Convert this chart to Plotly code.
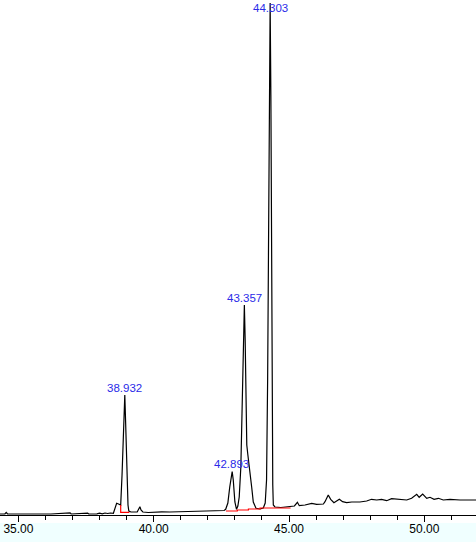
import plotly.graph_objects as go

# Retention time (min) and detector response (arbitrary units)
rt = [34.32, 34.50, 34.55, 34.60, 35.50, 36.20, 36.91, 36.95, 37.56, 37.60,
      37.90, 38.00, 38.10, 38.20, 38.30, 38.40, 38.51, 38.57, 38.63, 38.70,
      38.78, 38.83, 38.87, 38.91, 38.932, 38.96, 38.99, 39.02, 39.05, 39.08,
      39.16, 39.39, 39.45, 39.49, 39.53, 39.60, 39.80, 40.00, 40.30, 40.60,
      40.97, 41.30, 41.60, 42.08, 42.40, 42.60, 42.66, 42.74, 42.81, 42.87,
      42.90, 42.94, 42.97, 43.00, 43.06, 43.11, 43.16, 43.22, 43.25, 43.28,
      43.31, 43.35, 43.38, 43.41, 43.44, 43.48, 43.52, 43.56, 43.62, 43.68,
      43.78, 43.93, 44.05, 44.12, 44.17, 44.21, 44.24, 44.27, 44.303, 44.33,
      44.35, 44.37, 44.40, 44.42, 44.48, 44.70, 45.00, 45.20, 45.31, 45.38,
      45.59, 45.84, 46.02, 46.27, 46.33, 46.45, 46.54, 46.66, 46.86, 46.98,
      47.13, 47.32, 47.62, 47.87, 48.05, 48.24, 48.42, 48.61, 48.79, 48.98,
      49.16, 49.35, 49.53, 49.72, 49.81, 49.94, 50.09, 50.21, 50.36, 50.52,
      50.70, 50.95, 51.32, 51.91]
signal = [1, 1, 2.5, 1, 1, 1, 2.2, 1, 1.8, 1,
          1.2, 1.8, 1.2, 2, 1.5, 2, 1.7, 8, 11.7, 11,
          10, 40, 70, 105, 120, 95, 55, 25, 10, 4,
          3, 3, 6, 8.3, 5, 3, 2.5, 3, 3.2, 3,
          3.3, 3.5, 3.8, 4, 4.2, 4.5, 5.7, 12, 28, 40,
          43.3, 35, 25, 13, 5.7, 9, 18, 48, 85, 130,
          175, 210, 175, 110, 70, 60, 52, 40, 28, 13,
          6.7, 6, 7, 12, 35, 135, 300, 450, 512, 420,
          270, 120, 30, 10, 8, 7.5, 8.5, 9, 12.7, 9.3,
          10, 11.7, 10.7, 11, 13.3, 20, 15.7, 12.3, 15.7, 13.3,
          12.3, 13, 13, 14, 15.7, 15, 15.7, 14.3, 16.3, 15.7,
          15, 15, 16.7, 20.7, 17.7, 21, 16.7, 17.7, 15.7, 16.7,
          15, 15.7, 15, 15]

# Integration baselines (red)
base1_rt = [38.78, 38.78, 39.10]
base1_sig = [10, 2.7, 2.7]
base2_rt = [42.67, 43.09, 43.09, 43.50, 43.50, 43.93, 43.93, 45.06]
base2_sig = [4, 4, 5, 5, 6, 6, 7, 7]

# Peak labels
peak_rt = [38.932, 42.893, 43.357, 44.303]
peak_sig = [120, 43.3, 210, 512]
peak_text = ["38.932", "42.893", "43.357", "44.303"]

tick_vals = [35, 40, 45, 50]
tick_text = ["35.00", "40.00", "45.00", "50.00"]

Y_TOP = 515

fig = go.Figure()
fig.add_trace(go.Scatter(x=rt, y=signal, mode="lines",
                         line=dict(color="black", width=1.2), hoverinfo="skip"))
fig.add_trace(go.Scatter(x=base1_rt, y=base1_sig, mode="lines",
                         line=dict(color="#ff0000", width=1.2), hoverinfo="skip"))
fig.add_trace(go.Scatter(x=base2_rt, y=base2_sig, mode="lines",
                         line=dict(color="#ff0000", width=1.2), hoverinfo="skip"))

for x, y, t in zip(peak_rt, peak_sig, peak_text):
    fig.add_annotation(x=x, y=min(y + 7.5, Y_TOP - 7.5), text=t, showarrow=False,
                       xanchor="center", yanchor="middle",
                       font=dict(family="Liberation Sans, Arial", size=11.5, color="#2a2ae8"))

# light cyan strip at the bottom of the window
fig.add_shape(type="rect", xref="paper", yref="paper", x0=0, x1=1,
              y0=-27 / 515, y1=-8 / 515, fillcolor="#f0ffff",
              line=dict(width=0), layer="below")

fig.update_layout(
    width=476, height=542,
    margin=dict(l=0, r=0, t=0, b=27),
    paper_bgcolor="white", plot_bgcolor="white",
    showlegend=False,
    font=dict(family="Liberation Sans, Arial", size=12, color="black"),
)
fig.update_xaxes(range=[34.32, 51.91], showgrid=False, zeroline=False,
                 showline=True, linecolor="black", linewidth=1,
                 tickmode="array", tickvals=tick_vals, ticktext=tick_text,
                 ticks="outside", ticklen=6, tickcolor="black", tickwidth=1,
                 ticklabelstandoff=-3,
                 tickfont=dict(size=12, color="black"),
                 minor=dict(dtick=1, tick0=35, ticks="outside", ticklen=4,
                            tickcolor="black", tickwidth=1, showgrid=False))
fig.update_yaxes(range=[0, Y_TOP], visible=False, showgrid=False, zeroline=False)

fig.write_html("out.html", config={"displayModeBar": False},
               post_script="document.body.style.margin='0px';"
                           "document.body.style.overflow='hidden';")
